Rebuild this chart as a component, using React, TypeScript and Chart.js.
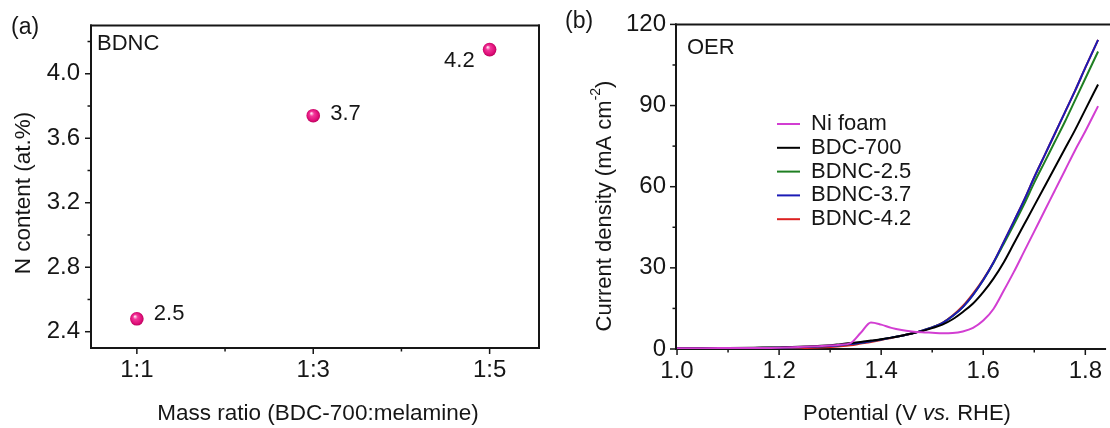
import React, { useEffect, useRef } from 'react';
import { Chart, registerables } from 'chart.js';

Chart.register(...registerables);

const FONT = "'Liberation Sans', Arial, Helvetica, sans-serif";
const INK = '#161616';

// ---------- Panel (a) data ----------
const ratioPositions = [1, 2, 3];
const ratioLabels = ['1:1', '1:3', '1:5'];
const nContent = [2.48, 3.74, 4.15];
const nContentLabels = ['2.5', '3.7', '4.2'];
const nTickLabels = ['2.4', '2.8', '3.2', '3.6', '4.0'];

// ---------- Panel (b) data ----------
const potential = [1.0, 1.05, 1.1, 1.15, 1.2, 1.25, 1.3, 1.32, 1.34, 1.36, 1.38, 1.4, 1.42, 1.44, 1.46, 1.48, 1.5, 1.52, 1.54, 1.56, 1.58, 1.6, 1.62, 1.64, 1.66, 1.68, 1.7, 1.72, 1.74, 1.76, 1.78, 1.8, 1.825];
const niFoam = [0.3, 0.3, 0.35, 0.4, 0.5, 0.8, 1.3, 1.6, 2.2, 6.0, 9.8, 9.0, 7.8, 7.0, 6.5, 6.2, 6.0, 5.8, 5.9, 6.5, 7.8, 10.5, 14.8, 21.5, 28.5, 36.0, 43.5, 51.0, 58.5, 66.0, 73.5, 80.5, 89.8];
const bdc700 = [0.3, 0.3, 0.4, 0.5, 0.6, 0.9, 1.4, 1.8, 2.2, 2.6, 3.1, 3.6, 4.2, 4.9, 5.7, 6.6, 7.7, 9.0, 11.0, 13.7, 16.8, 21.0, 26.0, 32.0, 39.0, 46.0, 53.0, 60.0, 67.0, 74.0, 81.0, 88.5, 97.8];
const bdnc25 = [0.3, 0.3, 0.35, 0.4, 0.5, 0.7, 1.1, 1.4, 1.8, 2.3, 2.9, 3.5, 4.2, 4.9, 5.7, 6.8, 8.0, 9.6, 12.2, 15.5, 20.0, 25.5, 31.8, 38.8, 46.0, 53.5, 61.5, 69.0, 76.5, 84.0, 92.0, 100.0, 110.0];
const bdnc37 = [0.3, 0.3, 0.35, 0.4, 0.5, 0.7, 1.1, 1.4, 1.8, 2.3, 2.9, 3.5, 4.2, 4.9, 5.7, 6.8, 8.0, 9.6, 12.2, 15.5, 20.0, 25.5, 32.0, 39.5, 47.2, 55.0, 63.5, 71.5, 79.5, 87.5, 95.5, 104.0, 114.3];
const bdnc42 = [0.2, 0.2, 0.2, 0.2, 0.25, 0.35, 0.7, 1.0, 1.4, 2.0, 2.6, 3.3, 4.1, 4.9, 5.7, 6.8, 8.0, 9.7, 12.4, 15.9, 20.5, 25.8, 32.0, 39.5, 47.2, 55.0, 63.5, 71.5, 79.5, 87.5, 95.5, 104.0, 114.3];
const seriesNames = ['Ni foam', 'BDC-700', 'BDNC-2.5', 'BDNC-3.7', 'BDNC-4.2'];
const seriesValues = [niFoam, bdc700, bdnc25, bdnc37, bdnc42];
const currentTickLabels = ['0', '30', '60', '90', '120'];
const potentialTickLabels = ['1.0', '1.2', '1.4', '1.6', '1.8'];

// styles
const seriesColors = ['#d23ed2', '#000000', '#1f7f22', '#1b1bb6', '#dc2020'];
const seriesOrder = [0, 1, 3, 2, 4];

type Run = { text: string; italic?: boolean; sup?: boolean };

function drawRuns(ctx: CanvasRenderingContext2D, runs: Run[], x: number, y: number, size: number, rotate = false) {
  ctx.save();
  ctx.translate(x, y);
  if (rotate) ctx.rotate(-Math.PI / 2);
  ctx.textBaseline = 'middle';
  ctx.textAlign = 'left';
  ctx.fillStyle = INK;
  const fontFor = (r: Run) => `${r.italic ? 'italic ' : ''}${r.sup ? Math.round(size * 0.62) : size}px ${FONT}`;
  let total = 0;
  const widths = runs.map((r) => {
    ctx.font = fontFor(r);
    const w = ctx.measureText(r.text).width;
    total += w;
    return w;
  });
  let cx = -total / 2;
  runs.forEach((r, i) => {
    ctx.font = fontFor(r);
    ctx.fillText(r.text, cx, r.sup ? -size * 0.4 : 0);
    cx += widths[i];
  });
  ctx.restore();
}

function text(ctx: CanvasRenderingContext2D, s: string, x: number, y: number, size: number, align: CanvasTextAlign = 'left') {
  ctx.save();
  ctx.font = `${size}px ${FONT}`;
  ctx.fillStyle = INK;
  ctx.textAlign = align;
  ctx.textBaseline = 'middle';
  ctx.fillText(s, x, y);
  ctx.restore();
}

const framePlugin = (sides: { top: boolean; right: boolean }) => ({
  id: 'frame',
  beforeDatasetsDraw(chart: any) {
    const { ctx, chartArea: a } = chart;
    ctx.save();
    ctx.strokeStyle = INK;
    ctx.lineWidth = 2;
    ctx.lineCap = 'square';
    ctx.beginPath();
    ctx.moveTo(a.left, a.top);
    ctx.lineTo(a.left, a.bottom);
    ctx.lineTo(a.right, a.bottom);
    if (sides.right) ctx.lineTo(a.right, a.top);
    ctx.stroke();
    if (sides.top) {
      ctx.beginPath();
      ctx.moveTo(a.left, a.top);
      ctx.lineTo(sides.right ? a.right : chart.width, a.top);
      ctx.stroke();
    }
    ctx.lineWidth = 1.5;
    ctx.lineCap = 'butt';
    for (const id of ['x', 'y']) {
      const s = chart.scales[id];
      s.ticks.forEach((t: any) => {
        const major = t.label !== '' && t.label !== undefined;
        const len = major ? 6 : 3.5;
        const p = s.getPixelForValue(t.value);
        ctx.beginPath();
        if (id === 'x') {
          ctx.moveTo(p, a.bottom);
          ctx.lineTo(p, a.bottom + len);
        } else {
          ctx.moveTo(a.left, p);
          ctx.lineTo(a.left - len, p);
        }
        ctx.stroke();
      });
    }
    ctx.restore();
  },
});

const tickFont = { family: FONT, size: 24 };

function LeftChart() {
  const ref = useRef<HTMLCanvasElement>(null);
  useEffect(() => {
    const canvas = ref.current!;
    const annot = {
      id: 'annotA',
      afterDraw(chart: any) {
        const { ctx } = chart;
        const xs = chart.scales.x;
        const ys = chart.scales.y;
        text(ctx, '(a)', 11, 28, 23);
        text(ctx, 'BDNC', 97, 44, 22);
        const offs = [
          [17, -5, 'left'],
          [17, -2, 'left'],
          [-15, 11, 'right'],
        ] as const;
        nContent.forEach((v, i) => {
          const px = xs.getPixelForValue(ratioPositions[i]);
          const py = ys.getPixelForValue(v);
          text(ctx, nContentLabels[i], px + offs[i][0], py + offs[i][1], 22, offs[i][2] as CanvasTextAlign);
        });
        drawRuns(ctx, [{ text: 'Mass ratio (BDC-700:melamine)' }], 318, 414, 22.5);
        drawRuns(ctx, [{ text: 'N content (at.%)' }], 24, 193, 22.5, true);
      },
    };
    const chart = new Chart(canvas, {
      type: 'scatter',
      data: {
        datasets: [
          {
            label: 'BDNC',
            data: ratioPositions.map((x, i) => ({ x, y: nContent[i] })),
            pointRadius: 6.8,
            borderWidth: 0,
            backgroundColor: (c: any) => {
              const ch = c.chart;
              if (c.type !== 'data' || !ch.chartArea || !c.parsed) return '#e8157e';
              const px = ch.scales.x.getPixelForValue(c.parsed.x);
              const py = ch.scales.y.getPixelForValue(c.parsed.y);
              const g = ch.ctx.createRadialGradient(px - 2, py - 2.5, 0.3, px, py, 7);
              g.addColorStop(0, '#ffe6f2');
              g.addColorStop(0.3, '#f2379a');
              g.addColorStop(0.75, '#e0107a');
              g.addColorStop(1, '#b8005a');
              return g;
            },
          },
        ],
      },
      options: {
        responsive: false,
        animation: false,
        layout: { padding: { top: 23, right: 21, left: 0, bottom: 0 } },
        plugins: { legend: { display: false }, tooltip: { enabled: false } },
        scales: {
          x: {
            type: 'linear',
            min: 0.74,
            max: 3.28,
            grid: { display: false, drawTicks: false },
            border: { display: false },
            ticks: {
              stepSize: 0.5,
              includeBounds: false,
              autoSkip: false,
              maxRotation: 0,
              padding: 8,
              color: INK,
              font: tickFont,
              callback: (v: any) => {
                const i = ratioPositions.indexOf(Number(v));
                return i >= 0 ? ratioLabels[i] : '';
              },
            },
            afterFit: (s: any) => {
              s.height = 80;
            },
          },
          y: {
            min: 2.299,
            max: 4.3,
            grid: { display: false, drawTicks: false },
            border: { display: false },
            ticks: {
              stepSize: 0.2,
              includeBounds: false,
              autoSkip: false,
              padding: 11,
              color: INK,
              font: tickFont,
              callback: (v: any) => {
                const s = Number(v).toFixed(1);
                return nTickLabels.includes(s) ? s : '';
              },
            },
            afterFit: (s: any) => {
              s.width = 91;
            },
          },
        },
      },
      plugins: [framePlugin({ top: true, right: true }), annot],
    } as any);
    return () => chart.destroy();
  }, []);
  return <canvas ref={ref} width={560} height={428} style={{ width: 560, height: 428, display: 'block' }} />;
}

function RightChart() {
  const ref = useRef<HTMLCanvasElement>(null);
  useEffect(() => {
    const canvas = ref.current!;
    const annot = {
      id: 'annotB',
      afterDraw(chart: any) {
        const { ctx } = chart;
        text(ctx, '(b)', 5, 22, 23);
        text(ctx, 'OER', 127, 48, 22);
        seriesNames.forEach((name, i) => {
          const y = 124 + i * 23.8;
          ctx.save();
          ctx.strokeStyle = seriesColors[i];
          ctx.lineWidth = 2;
          ctx.beginPath();
          ctx.moveTo(217, y);
          ctx.lineTo(240, y);
          ctx.stroke();
          ctx.restore();
          text(ctx, name, 251, y, 22);
        });
        drawRuns(ctx, [{ text: 'Potential (V ' }, { text: 'vs.', italic: true }, { text: ' RHE)' }], 347, 414, 22);
        drawRuns(ctx, [{ text: 'Current density (mA cm' }, { text: '-2', sup: true }, { text: ')' }], 45, 206, 22, true);
      },
    };
    const chart = new Chart(canvas, {
      type: 'line',
      data: {
        datasets: seriesNames.map((name, i) => ({
          label: name,
          data: potential.map((x, j) => ({ x, y: seriesValues[i][j] })),
          borderColor: seriesColors[i],
          backgroundColor: seriesColors[i],
          borderWidth: 2,
          pointRadius: 0,
          cubicInterpolationMode: 'monotone',
          order: seriesOrder[i],
          fill: false,
        })),
      },
      options: {
        responsive: false,
        animation: false,
        layout: { padding: { top: 23, right: 0, left: 0, bottom: 0 } },
        plugins: { legend: { display: false }, tooltip: { enabled: false } },
        scales: {
          x: {
            type: 'linear',
            min: 0.998,
            max: 1.8387,
            grid: { display: false, drawTicks: false },
            border: { display: false },
            ticks: {
              stepSize: 0.1,
              includeBounds: false,
              autoSkip: false,
              maxRotation: 0,
              padding: 8,
              color: INK,
              font: tickFont,
              callback: (v: any) => {
                const s = Number(v).toFixed(1);
                return potentialTickLabels.includes(s) ? s : '';
              },
            },
            afterFit: (s: any) => {
              s.height = 79;
            },
          },
          y: {
            min: 0,
            max: 120,
            grid: { display: false, drawTicks: false },
            border: { display: false },
            ticks: {
              stepSize: 15,
              includeBounds: false,
              autoSkip: false,
              padding: 10,
              color: INK,
              font: tickFont,
              callback: (v: any) => {
                const s = String(Math.round(Number(v)));
                return currentTickLabels.includes(s) ? s : '';
              },
            },
            afterFit: (s: any) => {
              s.width = 116;
            },
          },
        },
      },
      plugins: [framePlugin({ top: true, right: false }), annot],
    } as any);
    return () => chart.destroy();
  }, []);
  return <canvas ref={ref} width={550} height={428} style={{ width: 550, height: 428, display: 'block' }} />;
}

export default function App() {
  return (
    <div style={{ position: 'absolute', left: 0, top: 0, width: 1110, height: 428, background: '#fff', display: 'flex' }}>
      <LeftChart />
      <RightChart />
    </div>
  );
}
